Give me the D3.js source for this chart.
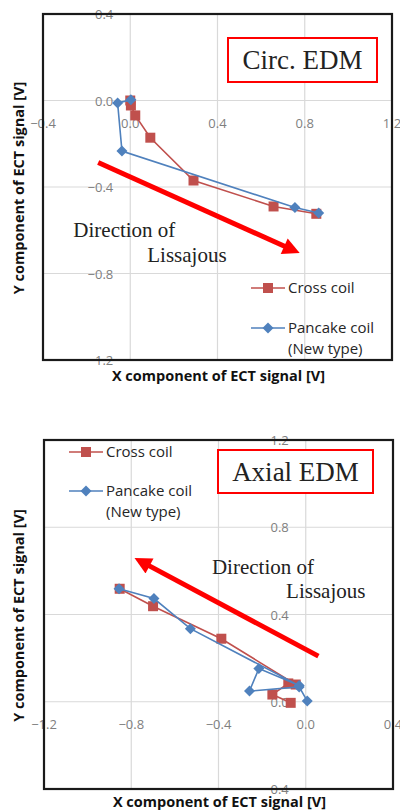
<!DOCTYPE html>
<html>
<head>
<meta charset="utf-8">
<script src="https://cdn.jsdelivr.net/npm/d3@7"></script>
<style>
  body { margin: 0; background: #fff; }
  svg { display: block; }
</style>
</head>
<body>
<div id="chart"></div>
<script>
// series names and colours
var seriesNames = ["Cross coil", "Pancake coil"];
var seriesSub = ["", "(New type)"];

// Circ. EDM (top chart), [x, y] in volts
var circCross = [[0.0, 0.0], [0.003, -0.023], [0.023, -0.069], [0.092, -0.172],
                 [0.29, -0.37], [0.657, -0.49], [0.853, -0.524]];
var circPancake = [[0.003, 0.003], [-0.058, -0.011], [-0.038, -0.234],
                   [0.755, -0.495], [0.864, -0.52]];
var circXTicks = [-0.4, 0.0, 0.4, 0.8, 1.2];
var circYTicks = [-1.2, -0.8, -0.4, 0.0, 0.4];

// Axial EDM (bottom chart)
var axialCross = [[-0.069, -0.005], [-0.153, 0.033], [-0.08, 0.084], [-0.046, 0.079],
                  [-0.387, 0.289], [-0.70, 0.438], [-0.853, 0.518]];
var axialPancake = [[0.007, 0.003], [-0.03, 0.068], [-0.258, 0.049], [-0.215, 0.152],
                    [-0.03, 0.074], [-0.529, 0.335], [-0.696, 0.473], [-0.856, 0.518]];
var axialXTicks = [-1.2, -0.8, -0.4, 0.0, 0.4];
var axialYTicks = [-0.4, 0.0, 0.4, 0.8, 1.2];

var red = "#c0504d", blue = "#4f81bd";

var svg = d3.select("#chart").append("svg")
    .attr("width", 400)
    .attr("height", 812);

var defs = svg.append("defs");
defs.append("marker")
    .attr("id", "head")
    .attr("viewBox", "0 0 10 10")
    .attr("refX", 2).attr("refY", 5)
    .attr("markerWidth", 4.2).attr("markerHeight", 3.4)
    .attr("markerUnits", "strokeWidth")
    .attr("orient", "auto")
    .append("path")
    .attr("d", "M0,0L10,5L0,10Z")
    .attr("fill", "#ff0000");

function drawChart(opt) {
  var x = d3.scaleLinear().domain(opt.xDomain).range([opt.left, opt.right]);
  var y = d3.scaleLinear().domain(opt.yDomain).range([opt.bottom, opt.top]);
  var g = svg.append("g");

  // gridlines
  g.selectAll(".vg").data(opt.xTicks).enter().append("line")
      .attr("x1", x).attr("x2", x)
      .attr("y1", opt.top).attr("y2", opt.bottom)
      .attr("stroke", "#d9d9d9").attr("stroke-width", 1.2);
  g.selectAll(".hg").data(opt.yTicks).enter().append("line")
      .attr("y1", y).attr("y2", y)
      .attr("x1", opt.left).attr("x2", opt.right)
      .attr("stroke", "#d9d9d9").attr("stroke-width", 1.2);

  // tick labels sit along the zero lines
  g.selectAll(".xl").data(opt.xTicks).enter().append("text")
      .attr("x", x).attr("y", y(0) + 27)
      .attr("text-anchor", "middle")
      .attr("font-family", "Open Sans, sans-serif")
      .attr("font-size", 13)
      .attr("fill", "#7f7f7f")
      .text(function(d) { return d3.format(".1f")(d); });
  g.selectAll(".yl").data(opt.yTicks).enter().append("text")
      .attr("x", x(0) - 17).attr("y", function(d) { return y(d) + 5; })
      .attr("text-anchor", "end")
      .attr("font-family", "Open Sans, sans-serif")
      .attr("font-size", 13)
      .attr("fill", "#7f7f7f")
      .text(function(d) { return d3.format(".1f")(d); });

  var line = d3.line()
      .x(function(d) { return x(d[0]); })
      .y(function(d) { return y(d[1]); });

  // arrow
  g.append("line")
      .attr("x1", x(opt.arrow[0][0])).attr("y1", y(opt.arrow[0][1]))
      .attr("x2", x(opt.arrow[1][0])).attr("y2", y(opt.arrow[1][1]))
      .attr("stroke", "#ff0000").attr("stroke-width", 5)
      .attr("marker-end", "url(#head)");

  // series
  var series = [{data: opt.cross, color: red, shape: "square"},
                {data: opt.pancake, color: blue, shape: "diamond"}];
  series.forEach(function(s) {
    g.append("path")
        .datum(s.data)
        .attr("fill", "none")
        .attr("stroke", s.color)
        .attr("stroke-width", 1.6)
        .attr("d", line);
    g.selectAll(null).data(s.data).enter().append("path")
        .attr("transform", function(d) { return "translate(" + x(d[0]) + "," + y(d[1]) + ")"; })
        .attr("d", s.shape == "square" ? "M-5,-5H5V5H-5Z" : "M0,-5.5L5.5,0L0,5.5L-5.5,0Z")
        .attr("fill", s.color);
  });

  // direction text
  g.append("text")
      .attr("x", x(opt.dir1[0])).attr("y", y(opt.dir1[1]))
      .attr("font-family", "Liberation Serif, serif")
      .attr("font-size", 21)
      .attr("fill", "#222")
      .text("Direction of");
  g.append("text")
      .attr("x", x(opt.dir2[0])).attr("y", y(opt.dir2[1]))
      .attr("font-family", "Liberation Serif, serif")
      .attr("font-size", 21)
      .attr("fill", "#222")
      .text("Lissajous");

  // label box
  g.append("rect")
      .attr("x", opt.left + opt.box[0]).attr("y", opt.top + opt.box[1])
      .attr("width", opt.box[2]).attr("height", opt.box[3])
      .attr("fill", "#fff")
      .attr("stroke", "#ff0000").attr("stroke-width", 2);
  g.append("text")
      .attr("x", opt.left + opt.box[0] + opt.box[2] / 2)
      .attr("y", opt.top + opt.box[1] + opt.box[3] / 2 + 9)
      .attr("text-anchor", "middle")
      .attr("font-family", "Liberation Serif, serif")
      .attr("font-size", 27)
      .attr("fill", "#222")
      .text(opt.label);

  // legend
  var leg = g.append("g")
      .attr("transform", "translate(" + (opt.left + opt.legend[0]) + "," + (opt.top + opt.legend[1]) + ")");
  seriesNames.forEach(function(name, i) {
    var row = leg.append("g").attr("transform", "translate(0," + i * opt.legend[2] + ")");
    row.append("line").attr("x1", 0).attr("x2", 34)
        .attr("stroke", series[i].color).attr("stroke-width", 1.6);
    row.append("path")
        .attr("transform", "translate(17,0)")
        .attr("d", i == 0 ? "M-5,-5H5V5H-5Z" : "M0,-5.5L5.5,0L0,5.5L-5.5,0Z")
        .attr("fill", series[i].color);
    row.append("text").attr("x", 37).attr("y", 5)
        .attr("font-family", "Open Sans, sans-serif")
        .attr("font-size", 15)
        .attr("fill", "#262626")
        .text(name);
    if (seriesSub[i]) {
      row.append("text").attr("x", 37).attr("y", 26)
          .attr("font-family", "Open Sans, sans-serif")
          .attr("font-size", 15)
          .attr("fill", "#262626")
          .text(seriesSub[i]);
    }
  });

  // frame
  g.append("rect")
      .attr("x", opt.left).attr("y", opt.top)
      .attr("width", opt.right - opt.left).attr("height", opt.bottom - opt.top)
      .attr("fill", "none")
      .attr("stroke", "#1a1a1a").attr("stroke-width", 2.2);

  // axis titles
  g.append("text")
      .attr("x", (opt.left + opt.right) / 2 + 1).attr("y", opt.bottom + opt.titleGap)
      .attr("text-anchor", "middle")
      .attr("font-family", "Open Sans, sans-serif")
      .attr("font-weight", "bold")
      .attr("font-size", 14.5)
      .attr("fill", "#111")
      .text("X component of ECT signal [V]");
  g.append("text")
      .attr("transform", "translate(" + 24 + "," + ((opt.top + opt.bottom) / 2 + 1) + ")rotate(-90)")
      .attr("text-anchor", "middle")
      .attr("font-family", "Open Sans, sans-serif")
      .attr("font-weight", "bold")
      .attr("font-size", 14.5)
      .attr("fill", "#111")
      .text("Y component of ECT signal [V]");
}

drawChart({
  left: 43, right: 392, top: 14, bottom: 360,
  xDomain: [-0.4, 1.2], yDomain: [-1.2, 0.4],
  xTicks: circXTicks, yTicks: circYTicks,
  cross: circCross, pancake: circPancake,
  arrow: [[-0.147, -0.287], [0.72, -0.68]],
  dir1: [-0.261, -0.632], dir2: [0.078, -0.748],
  box: [185, 24, 149, 44], label: "Circ. EDM",
  legend: [208, 274, 40], titleGap: 21
});

drawChart({
  left: 44, right: 393, top: 440, bottom: 789,
  xDomain: [-1.2, 0.4], yDomain: [-0.4, 1.2],
  xTicks: axialXTicks, yTicks: axialYTicks,
  cross: axialCross, pancake: axialPancake,
  arrow: [[0.058, 0.209], [-0.73, 0.63]],
  dir1: [-0.43, 0.584], dir2: [-0.09, 0.474],
  box: [174, 10, 155, 43], label: "Axial EDM",
  legend: [25, 12, 39], titleGap: 18
});
</script>
</body>
</html>
